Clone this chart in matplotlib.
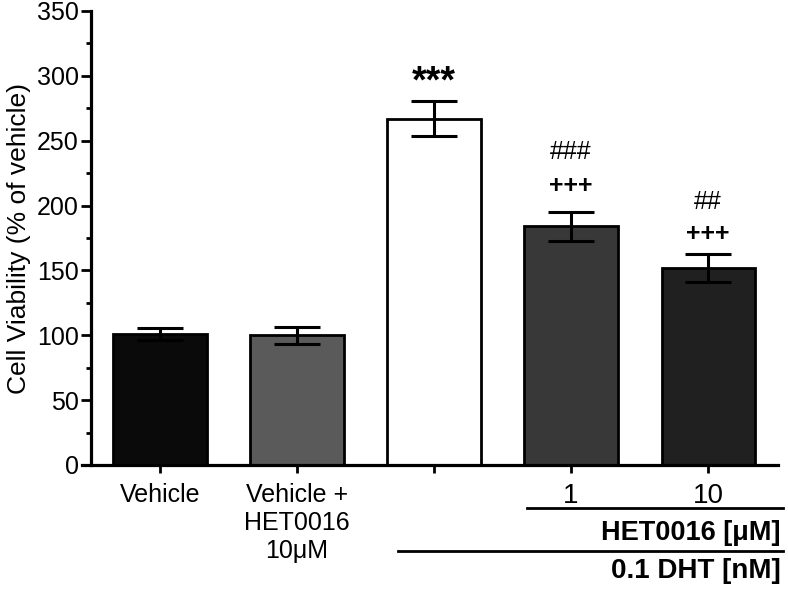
import matplotlib.pyplot as plt
from matplotlib.ticker import MultipleLocator

plt.rcParams['font.family'] = ['Liberation Sans', 'DejaVu Sans']

# data
groups = ['Vehicle', 'Vehicle +\nHET0016\n10μM', '', '1', '10']
means = [101, 100, 267, 184, 152]
errors = [4.5, 6.5, 13.5, 11, 11]
bar_colors = ['#0a0a0a', '#5a5a5a', '#ffffff', '#383838', '#202020']
# significance marks: (bar index, text, y value, bold)
marks = [(2, '***', 295, True),
         (3, '###', 241, False), (3, '+++', 215, True),
         (4, '##', 203, False), (4, '+++', 178, True)]

fig = plt.figure(figsize=(7.88, 5.93), dpi=100)
ax = fig.add_axes([82/788, 1 - 465/593, (778-82)/788, (465-11)/593])

x = list(range(len(groups)))
ax.bar(x, means, width=0.68, color=bar_colors, edgecolor='black', linewidth=2, zorder=2)
ax.errorbar(x, means, yerr=errors, fmt='none', ecolor='black', elinewidth=2.2,
            capsize=16.5, capthick=2.2, zorder=3)

for i, txt, yv, bold in marks:
    fs = 27 if txt == '***' else 18
    ax.text(i, yv, txt, ha='center', va='center', fontsize=fs,
            fontweight='bold' if bold else 'normal')

ax.set_xlim(-0.569, 4.51)
ax.set_ylim(0, 350)
ax.spines['left'].set_position(('data', -0.5))
ax.spines['top'].set_visible(False)
ax.spines['right'].set_visible(False)
ax.spines['left'].set_linewidth(2.3)
ax.spines['bottom'].set_linewidth(2.3)

ax.yaxis.set_major_locator(MultipleLocator(50))
ax.yaxis.set_minor_locator(MultipleLocator(25))
ax.tick_params(axis='y', which='major', length=7, width=2, labelsize=18, pad=2)
ax.tick_params(axis='y', which='minor', length=3.5, width=2)
ax.set_xticks(x)
ax.set_xticklabels(groups, fontsize=18, linespacing=1.22)
for lbl in ax.get_xticklabels()[3:]:
    lbl.set_fontsize(20)
ax.tick_params(axis='x', which='major', length=6, width=2, pad=7)
ax.set_ylabel('Cell Viability (% of vehicle)', fontsize=19, labelpad=4)

# grouping lines under axis
ax.plot([2.68, 4.55], [-33, -33], color='black', lw=2, clip_on=False)
ax.plot([1.74, 4.55], [-66.3, -66.3], color='black', lw=2, clip_on=False)
ax.text(4.53, -52.2, 'HET0016 [μM]', ha='right', va='center', fontsize=19.5,
        fontweight='bold')
ax.text(4.53, -82, '0.1 DHT [nM]', ha='right', va='center', fontsize=20,
        fontweight='bold')

fig.savefig('out.png', dpi=100)
